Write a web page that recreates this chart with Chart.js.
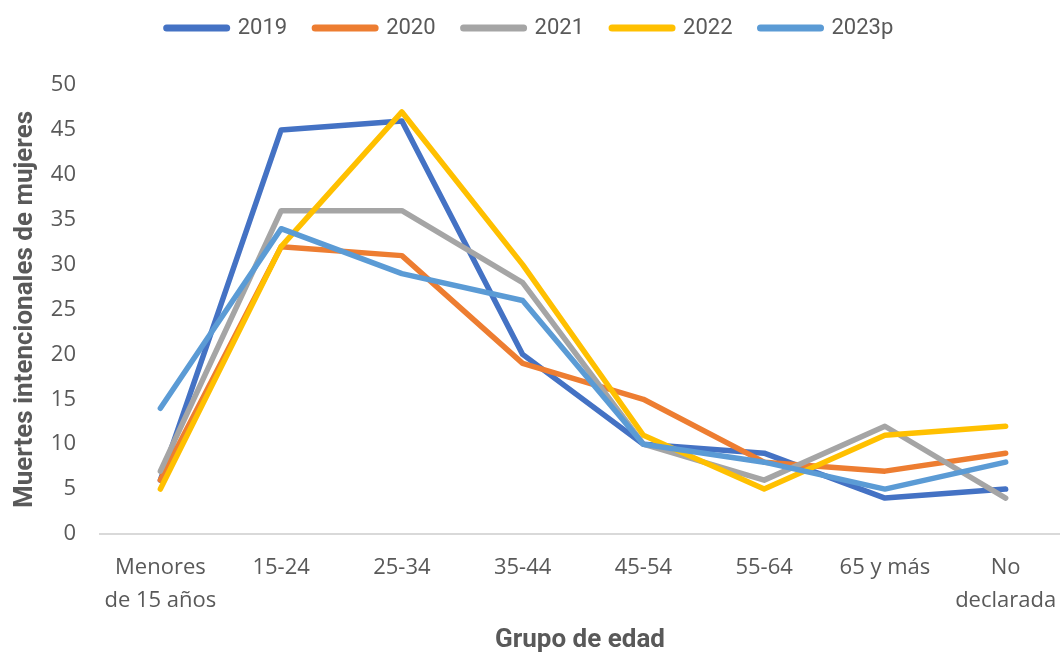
<!DOCTYPE html>
<html>
<head>
<meta charset="utf-8">
<script src="https://cdn.jsdelivr.net/npm/chart.js@4"></script>
<style>
  html, body { margin: 0; padding: 0; background: #fff; }
  #wrap { width: 1060px; height: 656px; }
</style>
</head>
<body>
<div id="wrap"><canvas id="myChart"></canvas></div>
<script>
// data
const categories = [['Menores', 'de 15 años'], '15-24', '25-34', '35-44', '45-54', '55-64', '65 y más', ['No', 'declarada']]
const years = ['2019', '2020', '2021', '2022', '2023p']
const colors = ['#4472C4', '#ED7D31', '#A5A5A5', '#FFC000', '#5B9BD5']

const v2019 = [6, 45, 46, 20, 10, 9, 4, 5]
const v2020 = [6, 32, 31, 19, 15, 8, 7, 9]
const v2021 = [7, 36, 36, 28, 10, 6, 12, 4]
const v2022 = [5, 32, 47, 30, 11, 5, 11, 12]
const v2023 = [14, 34, 29, 26, 10, 8, 5, 8]
const series = [v2019, v2020, v2021, v2022, v2023]

const yTicks = [0, 5, 10, 15, 20, 25, 30, 35, 40, 45, 50]

const tickFont = { family: 'Open Sans', size: 22, lineHeight: 1.5 }
const titleFont = { family: 'Roboto', size: 26, weight: 'bold' }

let datasets = series.map((vals, i) => ({
  label: years[i],
  data: vals.map((v, k) => ({ x: k, y: v })),
  borderColor: colors[i],
  backgroundColor: colors[i],
  borderWidth: 5.5,
  borderCapStyle: 'round',
  borderJoinStyle: 'round',
  pointRadius: 0,
  pointHoverRadius: 0,
  tension: 0,
  order: series.length - i, // later years drawn on top
}))

const config = {
  type: 'line',
  data: { datasets: datasets },
  options: {
    responsive: true,
    maintainAspectRatio: false,
    animation: false,
    layout: { padding: { top: -11, right: 0, bottom: 0, left: 0 } },
    plugins: {
      tooltip: { enabled: false },
      // empty title used only as a spacer between legend and plot
      title: {
        display: true,
        text: '',
        weight: 500,
        font: { size: 10 },
        padding: { top: 0, bottom: 24 },
      },
      legend: {
        position: 'top',
        labels: {
          usePointStyle: true,
          pointStyleWidth: 60,
          boxHeight: 8,
          padding: 28,
          color: '#595959',
          font: { family: 'Roboto', size: 22 },
          generateLabels: (chart) => chart.data.datasets.map((ds, i) => ({
            text: ds.label,
            fillStyle: ds.borderColor,
            strokeStyle: ds.borderColor,
            lineWidth: 7,
            lineCap: 'round',
            pointStyle: 'line',
            hidden: false,
            datasetIndex: i,
            fontColor: '#595959',
          })),
        },
      },
    },
    scales: {
      x: {
        type: 'linear',
        min: -0.5,
        max: 7.45,
        afterBuildTicks: (s) => { s.ticks = categories.map((c, i) => ({ value: i })) },
        afterFit: (s) => { s.height = 122; s.paddingLeft = 0; s.paddingRight = 0 },
        grid: { display: false, drawTicks: false },
        border: { display: true, color: '#D9D9D9', width: 2 },
        ticks: {
          autoSkip: false,
          maxRotation: 0,
          padding: 17,
          color: '#595959',
          font: tickFont,
          callback: (v) => categories[v],
        },
        title: {
          display: true,
          text: 'Grupo de edad',
          color: '#595959',
          font: titleFont,
          padding: { top: 0, bottom: 0 },
        },
      },
      y: {
        min: 0,
        max: 50,
        afterBuildTicks: (s) => { s.ticks = yTicks.map((v) => ({ value: v })) },
        afterFit: (s) => { s.width = 100 },
        grid: { display: false, drawTicks: false },
        border: { display: false },
        ticks: {
          padding: 24,
          color: '#595959',
          font: tickFont,
        },
        title: {
          display: true,
          text: 'Muertes intencionales de mujeres',
          color: '#595959',
          font: titleFont,
          padding: { top: 10, bottom: 0 },
        },
      },
    },
  },
}

var myChart = new Chart(document.getElementById('myChart'), config)
</script>
</body>
</html>
